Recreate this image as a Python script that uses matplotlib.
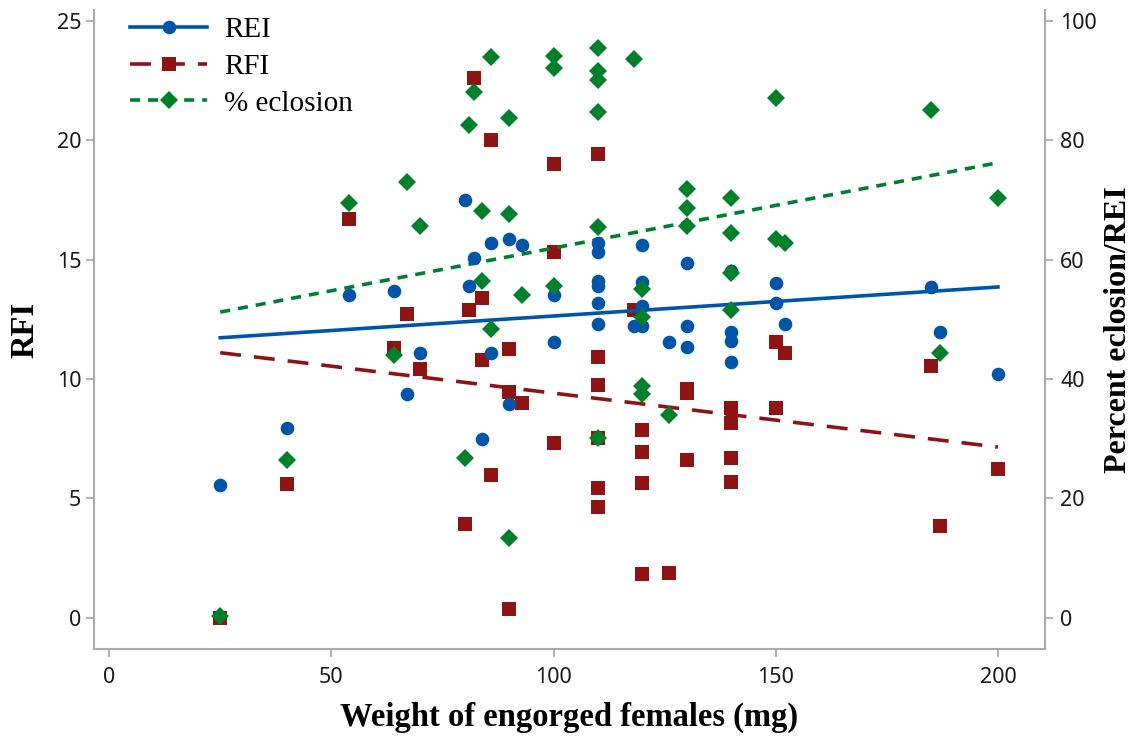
import matplotlib
matplotlib.use('Agg')
import matplotlib.pyplot as plt
from matplotlib.lines import Line2D

# RFI (left axis)
rfi_x = [25, 40, 54, 64, 67, 70, 80, 81, 82, 84, 84, 86, 86, 90, 90, 90, 93,
         100, 100, 100, 110, 110, 110, 110, 110, 110, 118, 120, 120, 120, 120,
         126, 130, 130, 130, 140, 140, 140, 140, 150, 150, 152, 185, 187, 200]
rfi = [0.0, 5.6, 16.7, 11.3, 12.7, 10.4, 3.95, 12.9, 22.6, 13.4, 10.8, 20.0, 6.0,
       11.25, 9.45, 0.37, 9.0, 19.0, 15.3, 7.3, 19.4, 10.9, 9.75, 7.55, 5.45, 4.65,
       12.9, 7.85, 6.95, 5.65, 1.85, 1.9, 9.6, 9.4, 6.6, 8.8, 8.15, 6.7, 5.7,
       11.55, 8.8, 11.1, 10.55, 3.85, 6.25]

# REI (right axis)
rei_x = [25, 40, 54, 64, 67, 70, 80, 81, 82, 84, 86, 86, 90, 90, 93, 100, 100,
         110, 110, 110, 110, 110, 110, 118, 120, 120, 120, 120, 126, 130, 130, 130,
         140, 140, 140, 140, 150, 150, 152, 185, 187, 200]
rei = [22.2, 31.8, 54.0, 54.8, 37.5, 44.4, 70.0, 55.6, 60.2, 30.0, 62.8, 44.4,
       63.4, 35.8, 62.4, 54.0, 46.2, 62.8, 61.2, 56.4, 55.6, 52.8, 49.2, 48.8,
       62.4, 56.2, 52.2, 48.8, 46.2, 59.4, 48.8, 45.4, 58.0, 47.9, 46.4, 42.8,
       56.0, 52.8, 49.2, 55.4, 47.9, 40.8]

# % eclosion (right axis)
ecl_x = [25, 40, 54, 64, 67, 70, 80, 81, 82, 84, 84, 86, 86, 90, 90, 90, 93,
         100, 100, 100, 110, 110, 110, 110, 110, 110, 118, 120, 120, 120, 120,
         126, 130, 130, 130, 140, 140, 140, 140, 150, 150, 152, 185, 187, 200]
ecl = [0.3, 26.4, 69.5, 44.0, 73.0, 65.6, 26.8, 82.5, 88.0, 68.1, 56.4, 93.9, 48.4,
       83.7, 67.6, 13.4, 54.1, 94.1, 92.0, 55.6, 95.4, 91.5, 90.0, 84.7, 65.5, 30.1,
       93.6, 55.0, 50.4, 38.8, 37.5, 34.0, 71.8, 68.6, 65.6, 70.3, 64.4, 57.7, 51.5,
       87.0, 63.4, 62.8, 85.0, 44.4, 70.3]

# fitted lines as drawn in the figure (end points)
trend_x = [25, 200]
rei_trend = [46.9, 55.4]
rfi_trend = [11.1, 7.15]
ecl_trend = [51.2, 76.2]

blue = '#0055a8'
red = '#8e1414'
green = '#00802a'
grey = '#aaaaaa'
lw = 2.6
red_dash = (5.8, 3.6)
green_dash = (2.8, 2.2)

tick_font = 'Noto Sans'
serif = 'Liberation Serif'

fig = plt.figure(figsize=(11.42, 7.38), dpi=100)
ax = fig.add_axes([0.0823, 0.1206, 0.8328, 0.8658])
ax2 = ax.twinx()

ax.plot(trend_x, rfi_trend, color=red, lw=lw, dashes=red_dash, zorder=2)
ax.plot(rfi_x, rfi, linestyle='none', marker='s', ms=10.5, color=red,
        markeredgewidth=0, zorder=3)

ax2.plot(trend_x, rei_trend, color=blue, lw=lw, zorder=2)
ax2.plot(trend_x, ecl_trend, color=green, lw=lw, dashes=green_dash, zorder=2)
ax2.plot(rei_x, rei, linestyle='none', marker='o', ms=9.8, color=blue,
         markeredgewidth=0, zorder=3)
ax2.plot(ecl_x, ecl, linestyle='none', marker='D', ms=9.0, color=green,
         markeredgewidth=0, zorder=4)

ax.set_xlim(-3.4, 210.6)
ax.set_ylim(-1.3, 25.44)
ax2.set_ylim(-5.2, 101.76)

ax.set_xticks([0, 50, 100, 150, 200])
ax.set_yticks([0, 5, 10, 15, 20, 25])
ax2.set_yticks([0, 20, 40, 60, 80, 100])

for a in (ax, ax2):
    for s in a.spines.values():
        s.set_visible(False)
    a.tick_params(colors=grey, labelcolor='#1a1a1a', length=6, width=1.3,
                  labelsize=15.5)
    for lab in a.get_xticklabels() + a.get_yticklabels():
        lab.set_fontfamily(tick_font)

ax.spines['left'].set_visible(True)
ax.spines['bottom'].set_visible(True)
ax2.spines['right'].set_visible(True)
for s in (ax.spines['left'], ax.spines['bottom'], ax2.spines['right']):
    s.set_color(grey)
    s.set_linewidth(1.5)

ax.tick_params(axis='x', pad=7)
ax.tick_params(axis='y', pad=3)
ax2.tick_params(axis='y', pad=5)

ax.set_xlabel('Weight of engorged females (mg)', fontsize=23.5, fontweight='bold',
              family=serif, labelpad=10)
ax.set_ylabel('RFI', fontsize=23.5, fontweight='bold', family=serif, labelpad=12)
ax2.set_ylabel('Percent eclosion/REI', fontsize=23, fontweight='bold',
               family=serif, labelpad=5)

handles = [
    Line2D([], [], color=blue, lw=lw, marker='o', ms=9.8, markeredgewidth=0),
    Line2D([], [], color=red, lw=lw, dashes=red_dash, marker='s', ms=10.5,
           markeredgewidth=0),
    Line2D([], [], color=green, lw=lw, dashes=green_dash, marker='D', ms=9.0,
           markeredgewidth=0),
]
ax2.legend(handles, ['REI', 'RFI', '% eclosion'], loc='upper left',
           bbox_to_anchor=(0.038, 0.99), frameon=False, borderaxespad=0,
           borderpad=0, handlelength=2.65, handletextpad=0.58, labelspacing=0.36,
           prop={'family': serif, 'size': 21})

fig.savefig('out.png', dpi=100)
